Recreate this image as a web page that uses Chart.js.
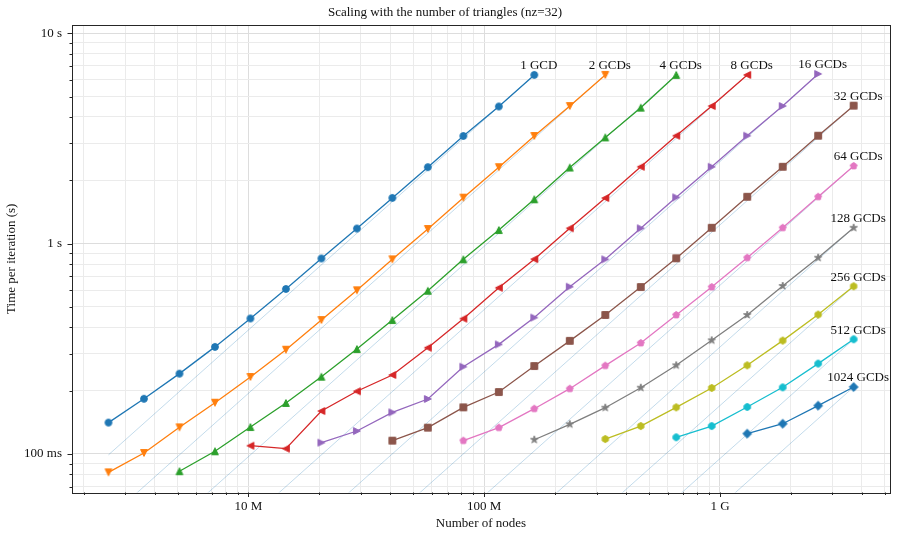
<!DOCTYPE html>
<html><head><meta charset="utf-8">
<script src="https://cdn.jsdelivr.net/npm/chart.js@4.4.1/dist/chart.umd.min.js"></script>
<style>html,body{margin:0;padding:0;background:#fff}canvas{display:block}</style>
</head><body>
<canvas id="c" width="898" height="534"></canvas>
<script>
// ---------- data ----------
const nodes = [2.548e6, 3.603e6, 5.096e6, 7.207e6, 1.0192e7, 1.4414e7, 2.0384e7, 2.8828e7,
  4.0768e7, 5.7655e7, 8.1536e7, 1.1531e8, 1.6307e8, 2.3062e8, 3.2614e8, 4.6124e8,
  6.5229e8, 9.2247e8, 1.3046e9, 1.8449e9, 2.6091e9, 3.6899e9];
const seriesLabels = ['1 GCD','2 GCDs','4 GCDs','8 GCDs','16 GCDs','32 GCDs','64 GCDs','128 GCDs','256 GCDs','512 GCDs','1024 GCDs'];
const firstNodeIndex = [0,0,2,4,6,8,10,12,14,16,18];
const t1    = [0.141, 0.183, 0.241, 0.323, 0.441, 0.609, 0.850, 1.18, 1.65, 2.31, 3.25, 4.49, 6.34];
const t2    = [0.0818, 0.1011, 0.1339, 0.1753, 0.2323, 0.3131, 0.4335, 0.600, 0.842, 1.174, 1.654, 2.31, 3.25, 4.51, 6.34];
const t4    = [0.0828, 0.1030, 0.1343, 0.1748, 0.2330, 0.3155, 0.4335, 0.597, 0.842, 1.161, 1.625, 2.30, 3.20, 4.43, 6.34];
const t8    = [0.1095, 0.1060, 0.1601, 0.1987, 0.2375, 0.320, 0.440, 0.617, 0.844, 1.183, 1.648, 2.32, 3.26, 4.51, 6.34];
const t16   = [0.1132, 0.1286, 0.1578, 0.1826, 0.260, 0.332, 0.445, 0.624, 0.842, 1.183, 1.66, 2.32, 3.26, 4.51, 6.41];
const t32   = [0.1157, 0.1334, 0.1667, 0.1971, 0.262, 0.345, 0.458, 0.622, 0.852, 1.19, 1.67, 2.32, 3.26, 4.53];
const t64   = [0.1157, 0.1334, 0.1642, 0.2044, 0.263, 0.337, 0.458, 0.622, 0.857, 1.19, 1.67, 2.34];
const t128  = [0.1169, 0.1384, 0.166, 0.2066, 0.264, 0.347, 0.458, 0.629, 0.857, 1.19];
const t256  = [0.1178, 0.1358, 0.1667, 0.206, 0.264, 0.346, 0.460, 0.627];
const t512  = [0.1201, 0.1358, 0.1673, 0.2075, 0.269, 0.351];
const t1024 = [0.1249, 0.1393, 0.1697, 0.2082];
const times = [t1, t2, t4, t8, t16, t32, t64, t128, t256, t512, t1024];
const xTickValues = [2e6,3e6,4e6,5e6,6e6,7e6,8e6,9e6,1e7,2e7,3e7,4e7,5e7,6e7,7e7,8e7,9e7,1e8,2e8,3e8,4e8,5e8,6e8,7e8,8e8,9e8,1e9,2e9,3e9,4e9,5e9];
const xTickLabels = {1e7:'10 M', 1e8:'100 M', 1e9:'1 G'};
const yTickValues = [0.07,0.08,0.09,0.1,0.2,0.3,0.4,0.5,0.6,0.7,0.8,0.9,1,2,3,4,5,6,7,8,9,10];
const yTickLabels = {0.1:'100 ms', 1:'1 s', 10:'10 s'};

// ---------- styles ----------
const colors = ['#1f77b4','#ff7f0e','#2ca02c','#d62728','#9467bd','#8c564b','#e377c2','#7f7f7f','#bcbd22','#17becf','#1f77b4'];
const shapes = ['o','v','^','<','>','s','p','*','h','8','D'];
const FONT = '"Liberation Serif", "Times New Roman", serif';

function isMajor(v){ const l = Math.log10(v); return Math.abs(l - Math.round(l)) < 1e-6; }

function marker(shape, color, s){
  const size = 18, c = document.createElement('canvas'); c.width = c.height = size;
  const g = c.getContext('2d'); g.translate(size/2, size/2);
  g.fillStyle = color; g.strokeStyle = color; g.lineWidth = 1; g.lineJoin = 'miter';
  const r = s/2;
  const poly = (n, rot, rad) => { for (let i=0;i<n;i++){ const a = rot + i*2*Math.PI/n; const px = rad*Math.sin(a), py = -rad*Math.cos(a); if(i) g.lineTo(px,py); else g.moveTo(px,py);} g.closePath(); };
  g.beginPath();
  switch(shape){
    case 'o': g.arc(0,0,r,0,2*Math.PI); break;
    case 'v': g.moveTo(0,r); g.lineTo(-r,-r); g.lineTo(r,-r); g.closePath(); break;
    case '^': g.moveTo(0,-r); g.lineTo(-r,r); g.lineTo(r,r); g.closePath(); break;
    case '<': g.moveTo(-r,0); g.lineTo(r,-r); g.lineTo(r,r); g.closePath(); break;
    case '>': g.moveTo(r,0); g.lineTo(-r,-r); g.lineTo(-r,r); g.closePath(); break;
    case 's': g.rect(-r,-r,2*r,2*r); break;
    case 'p': poly(5,0,r*1.05); break;
    case '*': for(let i=0;i<10;i++){ const a=i*Math.PI/5; const rad = i%2 ? r*1.15*0.381966 : r*1.15; const px=rad*Math.sin(a), py=-rad*Math.cos(a); if(i) g.lineTo(px,py); else g.moveTo(px,py);} g.closePath(); break;
    case 'h': poly(6,0,r*1.05); break;
    case '8': poly(8,Math.PI/8,r*1.02); break;
    case 'D': poly(4,0,r*1.3); break;
  }
  g.fill(); g.stroke();
  return c;
}

// ---------- datasets ----------
const datasets = [];
times.forEach((ts, i) => {
  const off = firstNodeIndex[i];
  datasets.push({
    label: seriesLabels[i],
    data: ts.map((t, j) => ({x: nodes[off + j], y: t})),
    borderColor: colors[i], backgroundColor: colors[i],
    borderWidth: 1.3, pointStyle: marker(shapes[i], colors[i], 6.8), pointRadius: 4,
    order: 0, tension: 0
  });
});
// ideal linear-scaling reference lines through the last point of each series
times.forEach((ts, i) => {
  const lastX = nodes[firstNodeIndex[i] + ts.length - 1], lastT = ts[ts.length - 1];
  datasets.push({
    label: 'ideal ' + seriesLabels[i],
    data: [{x: nodes[0], y: lastT * nodes[0] / lastX}, {x: lastX, y: lastT}],
    borderColor: 'rgba(31,119,180,0.45)', borderWidth: 0.6, pointRadius: 0, order: 1
  });
});

const framePlugin = {
  id: 'frame',
  afterDraw(chart){
    const {ctx, chartArea: a, scales: {x, y}} = chart;
    ctx.save();
    ctx.strokeStyle = '#262626'; ctx.lineWidth = 1;
    x.ticks.forEach(t => {
      const px = Math.round(x.getPixelForValue(t.value)) + 0.5;
      if (px < a.left || px > a.right) return;
      const len = isMajor(t.value) ? 4.5 : 2.5;
      ctx.beginPath(); ctx.moveTo(px, a.bottom); ctx.lineTo(px, a.bottom + len); ctx.stroke();
    });
    y.ticks.forEach(t => {
      const py = Math.round(y.getPixelForValue(t.value)) + 0.5;
      if (py < a.top || py > a.bottom) return;
      const len = isMajor(t.value) ? 4.5 : 2.5;
      ctx.beginPath(); ctx.moveTo(a.left, py); ctx.lineTo(a.left - len, py); ctx.stroke();
    });
    ctx.strokeRect(Math.round(a.left)+0.5, Math.round(a.top)+0.5, Math.round(a.right)-Math.round(a.left), Math.round(a.bottom)-Math.round(a.top));
    // series labels
    ctx.fillStyle = '#111'; ctx.font = '13px ' + FONT; ctx.textAlign = 'center'; ctx.textBaseline = 'middle';
    times.forEach((ts, i) => {
      const lastX = nodes[firstNodeIndex[i] + ts.length - 1], lastT = ts[ts.length - 1];
      ctx.fillText(seriesLabels[i], x.getPixelForValue(lastX) + 4.5, y.getPixelForValue(lastT) - 9);
    });
    ctx.restore();
  }
};

new Chart(document.getElementById('c'), {
  type: 'line',
  data: {datasets},
  options: {
    responsive: false, animation: false, devicePixelRatio: 1,
    layout: {padding: {left: 0, right: 8, top: 0, bottom: 0}},
    plugins: {
      legend: {display: false}, tooltip: {enabled: false},
      title: {display: true, text: 'Scaling with the number of triangles (nz=32)', color: '#111',
        font: {family: FONT, size: 13, weight: 'normal'}, padding: {top: 5, bottom: 4.4}}
    },
    scales: {
      x: {
        type: 'logarithmic', min: 1.784e6, max: 5.262e9,
        afterBuildTicks: s => { s.ticks = xTickValues.map(v => ({value: v})); },
        afterFit: s => { s.height = 41.5; },
        ticks: {autoSkip: false, maxRotation: 0, padding: 6, color: '#111', font: {family: FONT, size: 13},
          callback: v => xTickLabels[v] || ''},
        grid: {drawTicks: false, lineWidth: 1, color: c => (c.tick && isMajor(c.tick.value)) ? '#dddddd' : '#ebebeb'},
        border: {display: false},
        title: {display: true, text: 'Number of nodes', color: '#111', font: {family: FONT, size: 13}, padding: {top: 0, bottom: 3}}
      },
      y: {
        type: 'logarithmic', min: 0.06561, max: 10.95,
        afterBuildTicks: s => { s.ticks = yTickValues.map(v => ({value: v})); },
        afterFit: s => { s.width = 72; },
        ticks: {autoSkip: false, padding: 10, color: '#111', font: {family: FONT, size: 13},
          callback: v => yTickLabels[v] || ''},
        grid: {drawTicks: false, lineWidth: 1, color: c => (c.tick && isMajor(c.tick.value)) ? '#dddddd' : '#ebebeb'},
        border: {display: false},
        title: {display: true, text: 'Time per iteration (s)', color: '#111', font: {family: FONT, size: 13}, padding: {top: 4, bottom: 0}}
      }
    }
  },
  plugins: [framePlugin]
});
</script>
</body></html>
